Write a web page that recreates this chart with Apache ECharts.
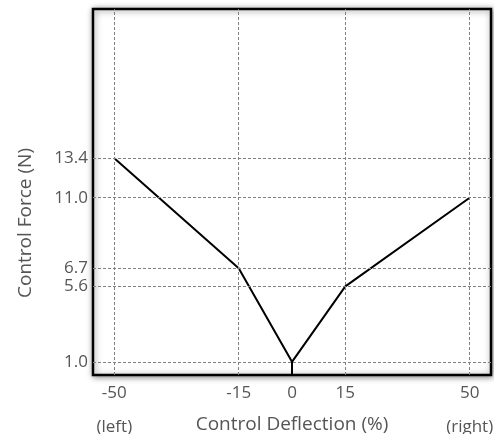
<!DOCTYPE html>
<html>
<head>
<meta charset="utf-8">
<script src="https://cdn.jsdelivr.net/npm/echarts@6/dist/echarts.min.js"></script>
<style>html,body{margin:0;padding:0;background:#fff}#c{width:494px;height:434px}</style>
</head>
<body>
<div id="c"></div>
<script>
// Data
const deflection = [-50, -15, 0, 15, 50];
const force = [13.4, 6.7, 1.0, 5.6, 11.0];
const xTickLabels = [-50, -15, 0, 15, 50];
const yTickLabels = [1.0, 5.6, 6.7, 11.0, 13.4];
const xGridValues = [-50, -15, 15, 50];
const sideLabels = {'-50': '(left)', '50': '(right)'};

const xMin = -56, xMax = 56, yMin = 0.2, yMax = 22.5;

const lineData = deflection.map((d, i) => [d, force[i]]);
const stubData = [[0, force[2]], [0, yMin]];

const font = 'Open Sans';
const gridStyle = {color: '#808080', width: 1, type: [3, 2]};

const chart = echarts.init(document.getElementById('c'), null, {renderer: 'canvas'});
chart.setOption({
  animation: false,
  grid: {
    left: 93, right: 3, top: 9, bottom: 59,
    outerBoundsMode: 'none', containLabel: false,
    show: true, borderColor: '#000', borderWidth: 2.5, backgroundColor: '#fff',
    shadowBlur: 6, shadowColor: 'rgba(0,0,0,0.45)', shadowOffsetX: 1, shadowOffsetY: 1
  },
  xAxis: {
    type: 'value', min: xMin, max: xMax,
    axisLine: {show: false}, axisTick: {show: false}, splitLine: {show: false},
    axisLabel: {
      customValues: xTickLabels,
      fontFamily: font, fontSize: 17, color: '#555', margin: 1, lineHeight: 34,
      formatter: v => sideLabels[String(v)] ? v + '\n' + sideLabels[String(v)] : String(v)
    },
    name: 'Control Deflection (%)', nameLocation: 'middle', nameGap: 40, nameMoveOverlap: false,
    nameTextStyle: {fontFamily: font, fontSize: 19, color: '#555'}
  },
  yAxis: {
    type: 'value', min: yMin, max: yMax,
    axisLine: {show: false}, axisTick: {show: false}, splitLine: {show: false},
    axisLabel: {
      customValues: yTickLabels,
      fontFamily: font, fontSize: 17, color: '#555', margin: 5,
      formatter: v => v.toFixed(1)
    },
    name: 'Control Force (N)', nameLocation: 'middle', nameGap: 58, nameMoveOverlap: false,
    nameTextStyle: {fontFamily: font, fontSize: 19, color: '#555', padding: [0, 62, 0, 0]}
  },
  series: [
    {
      type: 'line', data: [], silent: true, z: 1,
      markLine: {
        silent: true, symbol: 'none', label: {show: false},
        lineStyle: gridStyle, animation: false,
        data: xGridValues.map(v => ({xAxis: v})).concat(yTickLabels.map(v => ({yAxis: v})))
      }
    },
    {
      type: 'line', data: lineData, showSymbol: false, z: 3,
      lineStyle: {color: '#000', width: 2}
    },
    {
      type: 'line', data: stubData, showSymbol: false, z: 3,
      lineStyle: {color: '#000', width: 2}
    }
  ]
});
</script>
</body>
</html>
